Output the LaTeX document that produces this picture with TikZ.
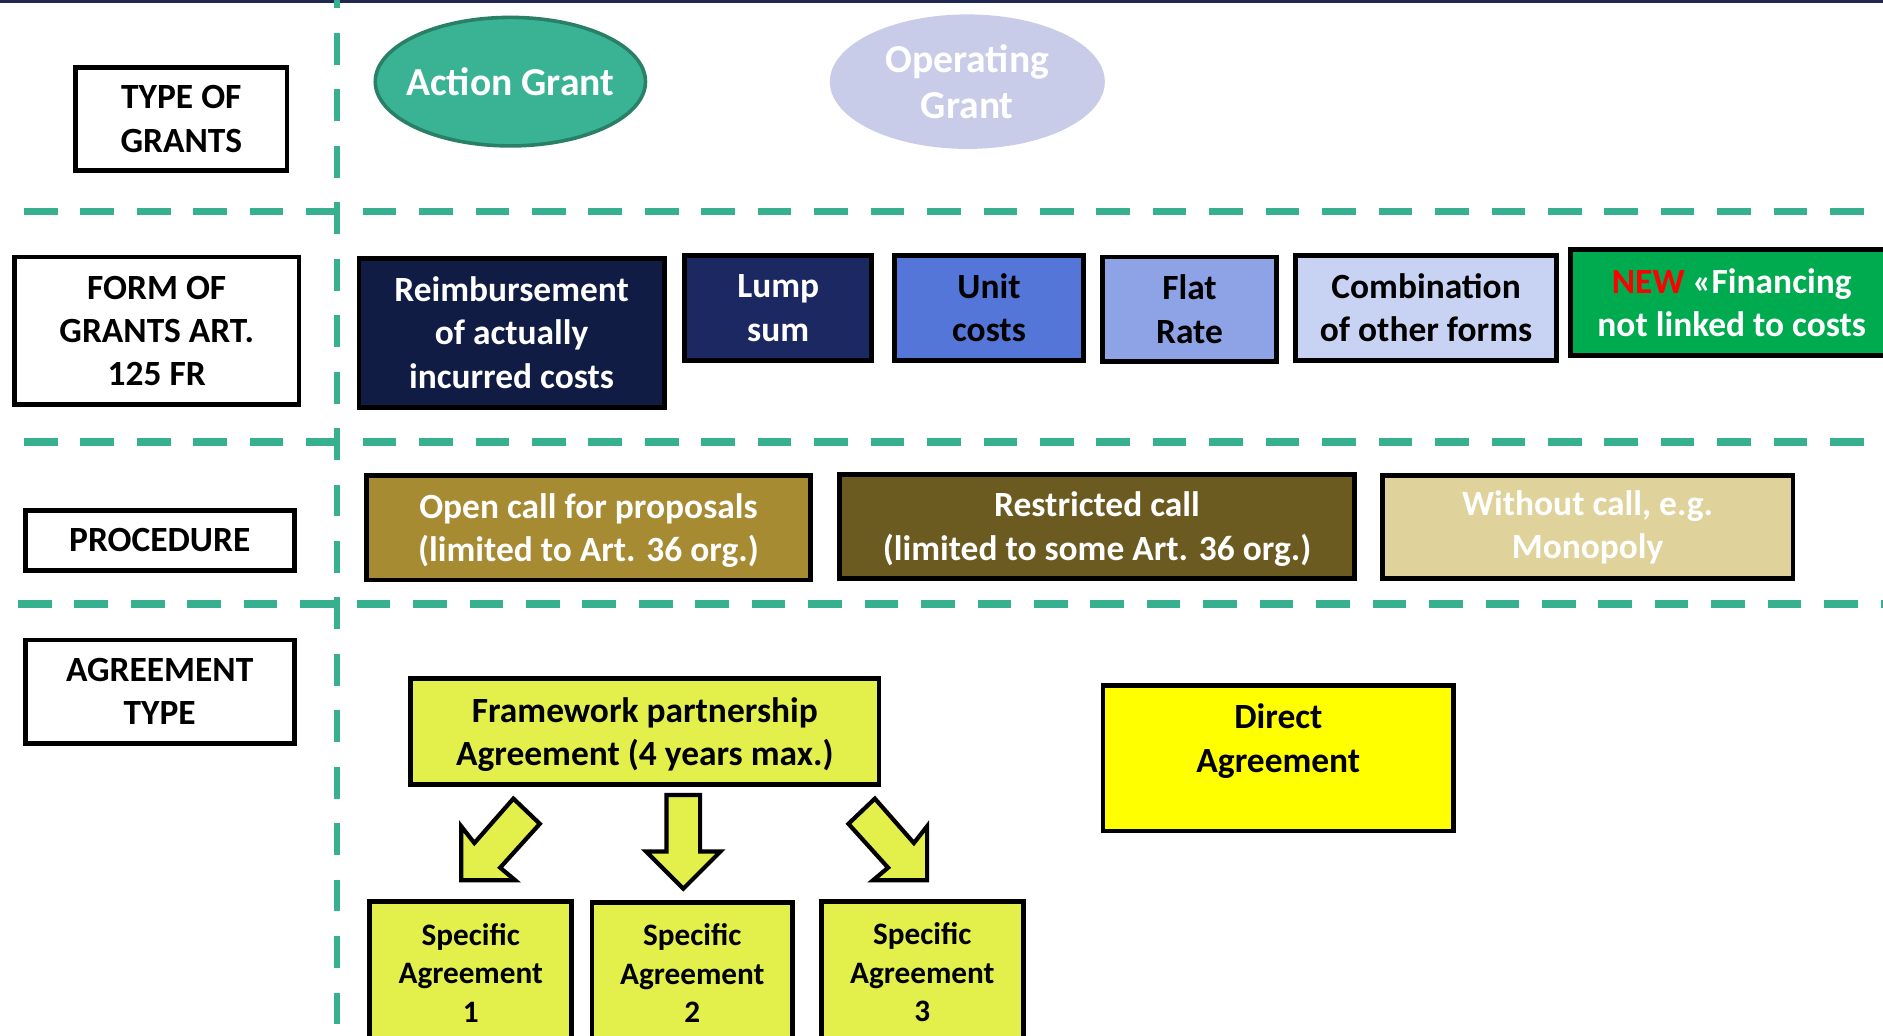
\documentclass[tikz,border=0pt]{standalone}
\usepackage{fontspec}
\setmainfont{Carlito}
\usetikzlibrary{shapes.geometric}
\definecolor{dashcol}{RGB}{54,176,142}
\definecolor{topbar}{RGB}{31,40,80}
\definecolor{actfill}{RGB}{58,179,148}
\definecolor{actdraw}{RGB}{42,127,103}
\definecolor{opfill}{RGB}{201,204,232}
\definecolor{reimb}{RGB}{17,28,69}
\definecolor{lump}{RGB}{27,40,97}
\definecolor{unitc}{RGB}{84,118,216}
\definecolor{flatc}{RGB}{141,163,229}
\definecolor{combc}{RGB}{200,210,243}
\definecolor{newc}{RGB}{0,171,79}
\definecolor{openc}{RGB}{166,139,51}
\definecolor{restc}{RGB}{108,91,33}
\definecolor{withc}{RGB}{223,210,155}
\definecolor{limec}{RGB}{227,240,75}
\definecolor{yelc}{RGB}{255,255,0}
\begin{document}
\begin{tikzpicture}[x=1pt,y=1pt,
  txt/.style={font=\bfseries\fontsize{29.5}{36}\selectfont, align=center},
  boxed/.style={draw=black, line width=4pt, inner sep=0pt, align=center,
    font=\bfseries\fontsize{29.5}{36}\selectfont},
  lbl/.style={boxed, fill=white, text=black},
  divider/.style={draw=dashcol, line width=6pt, dash pattern=on 28pt off 19pt},
  vdivider/.style={draw=dashcol, line width=5pt, dash pattern=on 26.5pt off 20.5pt},
  blockarrow/.style={draw=black, fill=limec, line width=3.5pt, line join=miter},
  spec/.style={boxed, fill=limec, text=black, minimum width=168pt, minimum height=118pt,
    font=\bfseries\fontsize{26}{32}\selectfont},
  eltxt/.style={text=white, align=center, font=\bfseries\fontsize{33}{39}\selectfont}
]
\clip (0,0) rectangle (1568,-862);
\fill[white] (0,0) rectangle (1568,-862);
\fill[topbar] (0,0) rectangle (1568,-2.5);

% dividers
\draw[divider] (20,-176) -- (1568,-176);
\draw[divider] (20,-368) -- (1568,-368);
\draw[divider] (15,-503) -- (1568,-503);
\draw[vdivider] (281,19.5) -- (281,-862);

% row labels
\node[lbl, minimum width=176pt, minimum height=86pt] (tog) at (151,-99) {TYPE OF\\GRANTS};
\node[lbl, minimum width=237pt, minimum height=123pt] (fog) at (130.5,-275.5) {FORM OF\\GRANTS ART.\\125 FR};
\node[lbl, minimum width=224pt, minimum height=50pt] (proc) at (133,-450) {PROCEDURE};
\node[lbl, minimum width=224pt, minimum height=86pt] (agt) at (133,-576) {AGREEMENT\\TYPE};

% type of grants
\node[ellipse, draw=actdraw, line width=3pt, fill=actfill, inner sep=0pt,
  minimum width=225pt, minimum height=107pt] (action) at (425,-68) {};
\node[eltxt] (actiontxt) at (action.center) {Action Grant};
\node[ellipse, fill=opfill, inner sep=0pt, minimum width=229pt, minimum height=112pt] (oper) at (805.5,-68) {};
\node[eltxt] (opertxt) at (oper.center) {Operating\\Grant};

% forms of grants
\node[boxed, fill=reimb, text=white, minimum width=254pt, minimum height=124pt] (reimb) at (426,-277)
  {Reimbursement\\of actually\\incurred costs};
\node[boxed, fill=lump, text=white, minimum width=156pt, minimum height=87pt] (lump) at (648,-256.5) {Lump\\sum};
\node[boxed, fill=unitc, text=black, minimum width=157pt, minimum height=87pt] (unit) at (823.5,-256.5) {Unit\\costs};
\node[boxed, fill=flatc, text=black, minimum width=145pt, minimum height=87pt] (flat) at (990.5,-257.5) {Flat\\Rate};
\node[boxed, fill=combc, text=black, minimum width=217pt, minimum height=87pt] (comb) at (1187.5,-256.5) {Combination\\of other forms};
\node[boxed, fill=newc, text=white, minimum width=268pt, minimum height=88pt] (newf) at (1442,-252) {\textcolor{red}{NEW} «Financing\\not linked to costs};

% procedures
\node[boxed, fill=openc, text=white, minimum width=370pt, minimum height=87pt] (open) at (490,-439.5) {};
\node[txt, text=white] (opentxt) at (490,-441.5) {Open call for proposals\\(limited to Art. 36 org.)};
\node[boxed, fill=restc, text=white, minimum width=429pt, minimum height=87pt] (restr) at (913.5,-438.5) {};
\node[txt, text=white] (restrtxt) at (913.5,-440.5) {Restricted call\\(limited to some Art. 36 org.)};
\node[boxed, fill=withc, text=white, minimum width=342pt, minimum height=86pt] (without) at (1322,-439)
  {Without call, e.g.\\Monopoly};

% agreements
\node[boxed, fill=limec, text=black, minimum width=390pt, minimum height=88pt] (fpa) at (537,-609) {};
\node[txt, text=black] (fpatxt) at (537,-611.5) {Framework partnership\\Agreement (4 years max.)};
\node[boxed, fill=yelc, minimum width=292pt, minimum height=121pt] (direct) at (1064.5,-631.5) {};
\node[txt, text=black] (directtxt) at (1064.5,-617) {Direct\\Agreement};

\node[spec] (sa1) at (392,-810) {Specific\\Agreement\\1};
\node[spec, minimum width=167pt] (sa2) at (576.5,-810.5) {Specific\\Agreement\\2};
\node[spec] (sa3) at (768,-809.5) {Specific\\Agreement\\3};

% block arrows from framework to specific agreements
\coordinate (a1tip) at (384,-733);
\coordinate (a2tip) at (569,-740);
\coordinate (a3tip) at (772,-733);
\draw[blockarrow] (a1tip) -- (384,-688) -- (395,-702) -- (427.5,-665) -- (449.5,-686)
  -- (416.5,-722.5) -- (429,-733) -- cycle;
\draw[blockarrow] (a2tip) -- (538,-709) -- (555,-709) -- (555,-662) -- (583,-662)
  -- (583,-709) -- (600,-709) -- cycle;
\draw[blockarrow] (a3tip) -- (772,-688) -- (761,-702) -- (728.5,-665) -- (706.5,-686)
  -- (739.5,-722.5) -- (727,-733) -- cycle;
\end{tikzpicture}
\end{document}
